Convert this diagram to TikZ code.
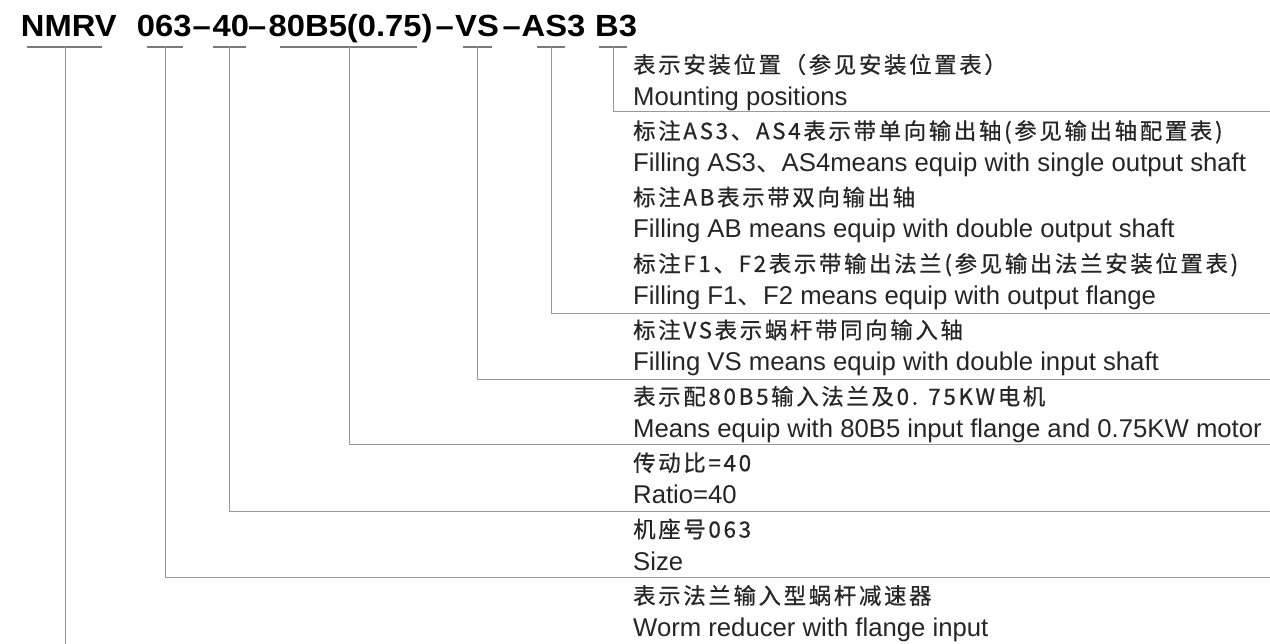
\documentclass[tikz,border=0pt]{standalone}
\usepackage{fontspec}
\setmainfont{Liberation Sans}
\newfontfamily\cjk[LetterSpace=12,FakeBold=0.6]{Noto Sans CJK SC}
\newfontfamily\cjkp{Noto Sans CJK SC}
\newfontfamily\ttl{Liberation Sans}
\definecolor{txt}{HTML}{262626}
\definecolor{ln}{HTML}{9A9A9A}
\definecolor{ul}{HTML}{7A7A7A}
\tikzset{
  en/.style={font=\fontsize{25.7}{26}\selectfont, text=txt, anchor=base west, inner sep=0},
  zh/.style={font=\cjk\fontsize{22.4}{24}\selectfont, text=txt, anchor=base west, inner sep=0},
  ttlseg/.style={font=\ttl\bfseries\fontsize{30.6}{31}\selectfont, text=black, anchor=base west, inner sep=0},
  leader/.style={draw=ln, line width=1pt},
  uline/.style={draw=ul, line width=1.6pt}
}
\newcommand{\tw}[1]{\scalebox{1.07}[1]{#1}}
\newcommand{\dun}{{\cjkp 、}}
\begin{document}
\begin{tikzpicture}[x=1pt,y=-1pt]
\useasboundingbox[fill=white] (0,0) rectangle (1270,644);
% title segments
\node[ttlseg] (nmrv) at (20.7,36.7) {\tw{NMRV}};
\node[ttlseg] (size) at (136.7,36.7) {\tw{063}};
\node[ttlseg] (d1) at (192.5,36.7) {\tw{–}};
\node[ttlseg] (ratio) at (212.5,36.7) {\tw{40}};
\node[ttlseg] (d2) at (248,36.7) {\tw{–}};
\node[ttlseg] (flange) at (268.5,36.7) {\tw{80B5(0.75)}};
\node[ttlseg] (d3) at (435.5,36.7) {\tw{–}};
\node[ttlseg] (vs) at (455,36.7) {\tw{VS}};
\node[ttlseg] (d4) at (502.5,36.7) {\tw{–}};
\node[ttlseg] (as) at (521.5,36.7) {\tw{AS3}};
\node[ttlseg] (b3) at (595,36.7) {\tw{B3}};
% underlines
\coordinate (u1a) at (27,47);  \coordinate (u1b) at (102,47);
\coordinate (u2a) at (147,47); \coordinate (u2b) at (183,47);
\coordinate (u3a) at (213,47); \coordinate (u3b) at (246,47);
\coordinate (u4a) at (280,47); \coordinate (u4b) at (417,47);
\coordinate (u5a) at (463,47); \coordinate (u5b) at (492,47);
\coordinate (u6a) at (537,47); \coordinate (u6b) at (565,47);
\coordinate (u7a) at (599,47); \coordinate (u7b) at (627,47);
\foreach \i in {1,...,7} { \draw[uline] (u\i a) -- (u\i b); }
% leader end points
\coordinate (v1) at (65,47);   \coordinate (e1) at (65,644);
\coordinate (v2) at (165,47);  \coordinate (e2) at (1270,577.5);
\coordinate (v3) at (229,47);  \coordinate (e3) at (1270,511);
\coordinate (v4) at (349,47);  \coordinate (e4) at (1270,444.5);
\coordinate (v5) at (477.5,47);\coordinate (e5) at (1270,380);
\coordinate (v6) at (551.5,47);\coordinate (e6) at (1270,314);
\coordinate (v7) at (613.5,47);\coordinate (e7) at (1270,112);
\draw[leader] (v1) -- (e1);
\foreach \i in {2,...,7} { \draw[leader] (v\i) |- (e\i); }
% descriptions
\node[zh] (t0) at (633,73) {表示安装位置（参见安装位置表）};
\node[en] (t1) at (633,105.2) {Mounting positions};
\node[zh] (t2) at (633,139.2) {标注AS3、AS4表示带单向输出轴(参见输出轴配置表)};
\node[en] (t3) at (633,171.6) {Filling AS3\dun AS4means equip with single output shaft};
\node[zh] (t4) at (633,205.6) {标注AB表示带双向输出轴};
\node[en] (t5) at (633,238) {Filling AB means equip with double output shaft};
\node[zh] (t6) at (633,272) {标注F1、F2表示带输出法兰(参见输出法兰安装位置表)};
\node[en] (t7) at (633,304.4) {Filling F1\dun F2 means equip with output flange};
\node[zh] (t8) at (633,338.4) {标注VS表示蜗杆带同向输入轴};
\node[en] (t9) at (633,370.8) {Filling VS means equip with double input shaft};
\node[zh] (t10) at (633,404.8) {表示配80B5输入法兰及0. 75KW电机};
\node[en] (t11) at (633,437.2) {Means equip with 80B5 input flange and 0.75KW motor};
\node[zh] (t12) at (633,471.2) {传动比=40};
\node[en] (t13) at (633,503.6) {Ratio=40};
\node[zh] (t14) at (633,537.6) {机座号063};
\node[en] (t15) at (633,570) {Size};
\node[zh] (t16) at (633,604) {表示法兰输入型蜗杆减速器};
\node[en] (t17) at (633,636.4) {Worm reducer with flange input};
\end{tikzpicture}
\end{document}
